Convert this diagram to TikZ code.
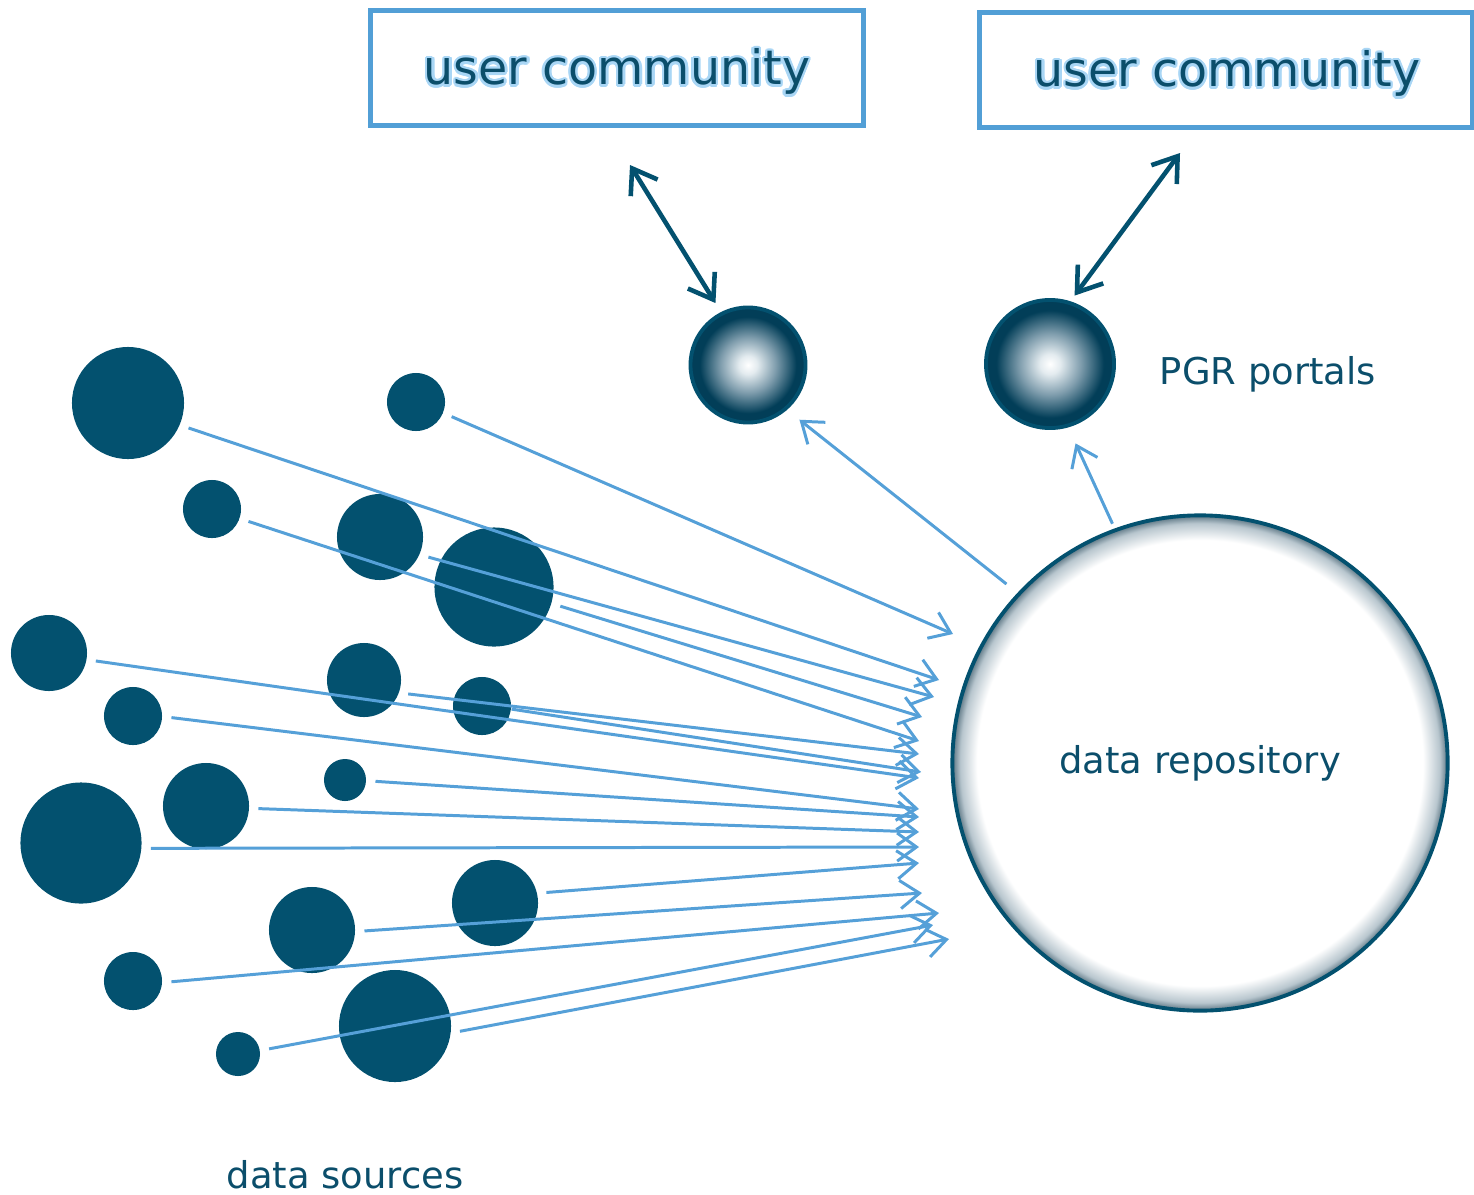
\documentclass[tikz,border=0pt]{standalone}
\usepackage{fontspec}
\setmainfont{DejaVu Sans}
\usepackage{contour}
\usetikzlibrary{arrows.meta}

\definecolor{srcblue}{HTML}{03516F}
\definecolor{feedblue}{HTML}{55A0D8}
\definecolor{textblue}{HTML}{0B4E6B}
\definecolor{boxblue}{HTML}{529FD6}
\definecolor{glowblue}{HTML}{A9D6F5}
\definecolor{portalblue}{HTML}{023E58}
\definecolor{portalmid}{HTML}{7F9DAD}
\definecolor{portallight}{HTML}{E3EBEF}
\definecolor{repoedge}{HTML}{B8C6CE}
\definecolor{repodark}{HTML}{5A7482}

% tikz fits the 50bp middle square of a shading to the path
\pgfdeclareradialshading{portalglow}{\pgfpoint{0bp}{0bp}}{color(0bp)=(white); color(4bp)=(portallight); color(12bp)=(portalmid); color(21bp)=(portalblue); color(50bp)=(portalblue)}
\pgfdeclareradialshading{repoglow}{\pgfpoint{0bp}{0bp}}{color(0bp)=(white); color(22.5bp)=(white); color(24.2bp)=(repoedge); color(25bp)=(repodark); color(50bp)=(repodark)}

\contourlength{0.7pt}

\tikzset{
  src/.style={circle,fill=srcblue,inner sep=0pt},
  feed/.style={draw=feedblue,line width=0.85pt,arrows={-Straight Barb[length=5.5pt,width=8pt]},shorten <=2.5pt},
  duplex/.style={draw=srcblue,line width=1.3pt,arrows={Straight Barb[length=6.5pt,width=9pt]-Straight Barb[length=6.5pt,width=9pt]}},
  portal/.style={circle,draw=srcblue,line width=1.1pt,shading=portalglow,inner sep=0pt},
  userbox/.style={draw=boxblue,line width=1.4pt,minimum width=4.93cm,minimum height=1.15cm},
  uctext/.style={text=textblue,font=\fontsize{13.5}{16}\selectfont,inner sep=0pt},
  caption/.style={text=textblue,font=\fontsize{10.5}{13}\selectfont,inner sep=0pt}
}

\begin{document}
\begin{tikzpicture}[x=0.01cm,y=-0.01cm]
\useasboundingbox (0,0) rectangle (1474,1194);

% user communities
\node[userbox] (ucL) at (617,68) {};
\node[userbox] (ucR) at (1226,70) {};
\node[uctext] (ucLt) at (617,73) {\contour{glowblue}{user community}};
\node[uctext] (ucRt) at (1227,75) {\contour{glowblue}{user community}};

% portals and repository
\node[portal,minimum size=1.15cm] (pl) at (748,365) {};
\node[portal,minimum size=1.28cm] (pr) at (1050,364) {};
\node[caption] (pgr) at (1268,374) {PGR portals};
\node[circle,draw=srcblue,line width=1.1pt,shading=repoglow,minimum size=4.95cm,inner sep=0pt,
      text=textblue,font=\fontsize{10.5}{13}\selectfont] (repo) at (1200,763) {data repository};

% data sources
\node[src,minimum size=1.12cm] (sA) at (128,403) {};
\node[src,minimum size=0.58cm] (sB) at (416,402) {};
\node[src,minimum size=0.58cm] (sC) at (212,509) {};
\node[src,minimum size=0.86cm] (sD) at (380,537) {};
\node[src,minimum size=1.19cm] (sE) at (494,587) {};
\node[src,minimum size=0.76cm] (sF) at (49,653) {};
\node[src,minimum size=0.74cm] (sG) at (364,680) {};
\node[src,minimum size=0.58cm] (sH) at (133,716) {};
\node[src,minimum size=0.58cm] (sI) at (482,706) {};
\node[src,minimum size=1.21cm] (sJ) at (81,843) {};
\node[src,minimum size=0.86cm] (sK) at (206,806) {};
\node[src,minimum size=0.42cm] (sL) at (345,780) {};
\node[src,minimum size=0.86cm] (sM) at (495,903) {};
\node[src,minimum size=0.86cm] (sN) at (312,930) {};
\node[src,minimum size=0.58cm] (sO) at (133,981) {};
\node[src,minimum size=1.12cm] (sP) at (395,1026) {};
\node[src,minimum size=0.44cm] (sQ) at (238,1054) {};
\node[caption] (dsrc) at (345,1175) {data sources};

% arrow ends in front of the repository
\coordinate (tA) at (939,680);
\coordinate (tB) at (953,634);
\coordinate (tC) at (919,741);
\coordinate (tD) at (934,697);
\coordinate (tE) at (922,717);
\coordinate (tF) at (919,778);
\coordinate (tG) at (919,754);
\coordinate (tH) at (919,809);
\coordinate (tI) at (921,772);
\coordinate (tJ) at (919,847);
\coordinate (tK) at (919,832);
\coordinate (tL) at (919,817);
\coordinate (tM) at (919,863);
\coordinate (tN) at (922,893);
\coordinate (tO) at (939,913);
\coordinate (tP) at (949,939);
\coordinate (tQ) at (933,925);

\draw[feed] (sA.-23) -- (tA);
\draw[feed] (sB.-22) -- (tB);
\draw[feed] (sC.-19) -- (tC);
\draw[feed] (sD.-24) -- (tD);
\draw[feed] (sE.-16) -- (tE);
\draw[feed] (sF.-10) -- (tF);
\draw[feed] (sG.-20) -- (tG);
\draw[feed] (sH.-1) -- (tH);
\draw[feed,shorten <=0pt] (sI.-6) -- (tI);
\draw[feed] (sJ.-5) -- (tJ);
\draw[feed] (sK.-3) -- (tK);
\draw[feed] (sL.-2) -- (tL);
\draw[feed] (sM.13) -- (tM);
\draw[feed] (sN.-2) -- (tN);
\draw[feed] (sO.-3) -- (tO);
\draw[feed] (sP.-7) -- (tP);
\draw[feed] (sQ.9) -- (tQ);

% repository to portals
\draw[feed,shorten <=4pt,shorten >=4.5pt] (repo.137) -- (pl.-49);
\draw[feed,shorten <=1.5pt,shorten >=5pt] (repo.110) -- (pr.-74);

% portals to user communities
\coordinate (uL) at (630,165);
\coordinate (uR) at (1180,153);
\draw[duplex,shorten <=3pt] (pl.117) -- (uL);
\draw[duplex,shorten <=2pt] (pr.72) -- (uR);

\end{tikzpicture}
\end{document}
